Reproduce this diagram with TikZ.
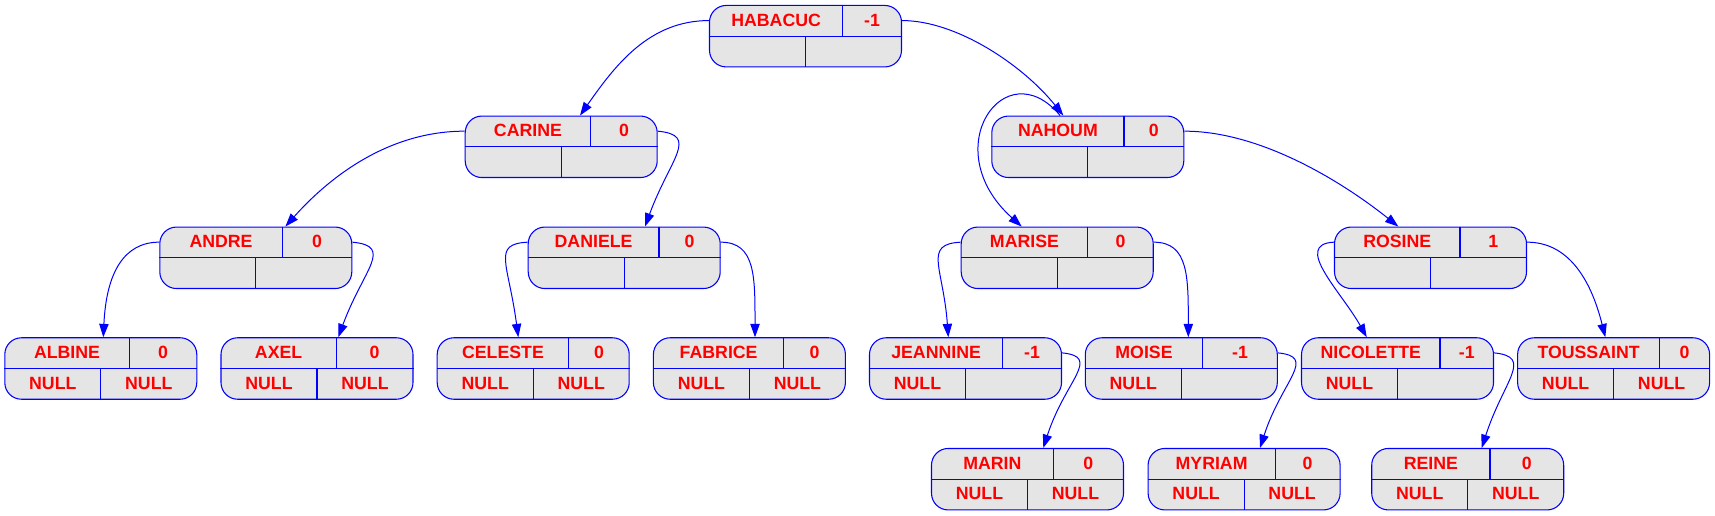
\documentclass[tikz,border=0pt]{standalone}
\usepackage{fontspec}
\setmainfont{Liberation Sans}
\usetikzlibrary{arrows.meta,calc}

\definecolor{cinza}{HTML}{E5E5E5}

\begin{document}
\begin{tikzpicture}[
    x=0.75pt,
    y=-0.75pt,
    every node/.style={font=\fontsize{13.3}{16}\selectfont\bfseries},
    registro/.style={rectangle, draw=blue, line width=0.8pt, rounded corners=12.5pt,
        fill=cinza, minimum width=144pt, minimum height=46.1pt, inner sep=0pt},
    divisoria/.style={draw=blue, line width=0.8pt},
    rotulo/.style={anchor=base, text=red, inner sep=0pt},
    seta/.style={-{Triangle[length=10pt,width=7pt]}, draw=blue, line width=0.75pt}
]

\useasboundingbox (0,0) rectangle (1715,516);

% Registros da arvore:
% cada no tem nome e fator de balanceamento em cima, filhos (NULL ou vazio) embaixo.
\foreach \n/\x/\y/\nome/\fb/\d/\esq/\dir in {
    habacuc/805.5/36.2/HABACUC/-1/37.2/{}/{},
    carine/561.2/146.8/CARINE/0/29.5/{}/{},
    nahoum/1087.8/146.8/NAHOUM/0/36.2/{}/{},
    andre/255.8/257.8/ANDRE/0/26.5/{}/{},
    daniele/624.2/257.8/DANIELE/0/34.8/{}/{},
    marise/1057.2/257.8/MARISE/0/30.5/{}/{},
    rosine/1430.5/257.8/ROSINE/1/29.5/{}/{},
    albine/100.8/368.5/ALBINE/0/28.5/NULL/NULL,
    axel/317/368.5/AXEL/0/19.2/NULL/NULL,
    celeste/533.2/368.5/CELESTE/0/35.5/NULL/NULL,
    fabrice/749.4/368.5/FABRICE/0/34.5/NULL/NULL,
    jeannine/965.5/368.5/JEANNINE/-1/37.2/NULL/{},
    moise/1181.3/368.5/MOISE/-1/21.4/NULL/{},
    nicolette/1397.5/368.5/NICOLETTE/-1/42.5/NULL/{},
    toussaint/1613.6/368.5/TOUSSAINT/0/45.9/NULL/NULL,
    marin/1027.5/479.2/MARIN/0/25.8/NULL/NULL,
    myriam/1244.1/479.2/MYRIAM/0/31/NULL/NULL,
    reine/1467.7/479.2/REINE/0/22.3/NULL/NULL
}{
    \node[registro] (\n) at (\x,\y) {};
    \draw[divisoria] (\n.west) -- (\n.east);
    \draw[divisoria] ($(\n.north)+(\d,0)$) -- ($(\n.center)+(\d,0)$);
    \draw[divisoria] (\n.center) -- (\n.south);
    \node[rotulo] (\n-nome) at ($(\n.center)+({(\d-96)/2},-10.1)$) {\nome};
    \node[rotulo] (\n-fb) at ($(\n.center)+({(\d+96)/2},-10.1)$) {\fb};
    \node[rotulo] (\n-esq) at ($(\n.center)+(-48,20.7)$) {\esq};
    \node[rotulo] (\n-dir) at ($(\n.center)+(48,20.7)$) {\dir};
}

% Ligacoes pai -> filho:
% saem da lateral da linha de cima do pai e chegam no topo do filho.
\foreach \pai/\lado/\filho/\dx/\ax/\ay/\bx/\by in {
    habacuc/west/carine/18.8/-60/0/35/-50,
    habacuc/east/nahoum/-24.5/55/0/-40/-50,
    carine/west/andre/29.6/-80/0/40/-45,
    carine/east/daniele/20.8/42/4/25/-68,
    nahoum/east/rosine/-32.2/80/0/-50/-40,
    andre/west/albine/2.5/-35/0/3/-65,
    andre/east/axel/21.3/42/4/25/-68,
    daniele/west/celeste/-14.9/-36/2/-10/-75,
    daniele/east/fabrice/5.6/35/0/0/-60,
    marise/west/jeannine/-17.2/-38/2/-5/-70,
    marise/east/moise/7/35/0/0/-60,
    rosine/west/nicolette/-30.8/-42/2/-25/-45,
    rosine/east/toussaint/-8.3/40/0/-15/-60,
    jeannine/east/marin/15.8/40/4/22/-68,
    moise/east/myriam/15.9/40/4/22/-68,
    nicolette/east/reine/14/40/4/22/-68
}
    \draw[seta] ($(\pai.north \lado)!0.25!(\pai.south \lado)$)
        .. controls +(\ax,\ay) and +(\bx,\by) .. ($(\filho.north)+(\dx,0)$);

% Ligacao NAHOUM -> MARISE:
% faz a volta por cima, saindo do topo de NAHOUM.
\draw[seta] ($(nahoum.north)+(-27.7,0)$)
    .. controls +(-55,-66) and +(-86.7,-77.6) .. ($(marise.north)+(-35.5,0)$);

\end{tikzpicture}
\end{document}
